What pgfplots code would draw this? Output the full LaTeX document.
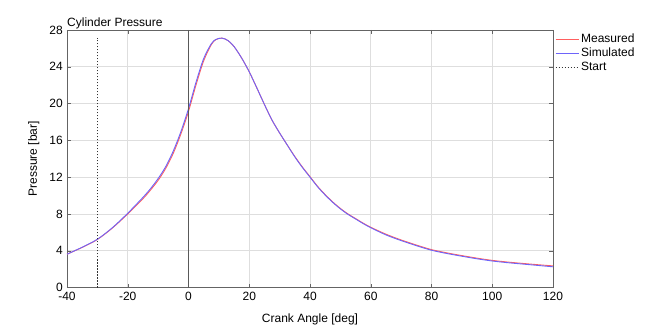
\documentclass[border=0pt]{standalone}
\usepackage{fontspec}
\setmainfont{Liberation Sans}
\usepackage{pgfplots}
\pgfplotsset{compat=1.18}
\definecolor{meas}{RGB}{255,95,95}
\definecolor{simu}{RGB}{110,100,250}
\definecolor{gridc}{RGB}{222,222,222}
\definecolor{axc}{RGB}{100,100,100}
\begin{document}
\begin{tikzpicture}
\fontsize{12}{14}\selectfont
\begin{axis}[
  name=ax,
  scale only axis,
  width=486pt, height=257.5pt,
  xmin=-40, xmax=120, ymin=0, ymax=28,
  xtick={-40,-20,...,120},
  ytick={0,4,...,28},
  grid=major,
  major grid style={gridc, line width=0.8pt},
  axis line style={axc, line width=0.8pt},
  tick style={axc},
  tick align=inside,
  major tick length=4pt,
  /pgf/number format/assume math mode=true,
  ticklabel style={font=\fontsize{12}{14}\selectfont},
  label style={font=\fontsize{12}{14}\selectfont},
  xlabel={Crank Angle [deg]},
  xlabel style={yshift=-5pt},
  ylabel={Pressure [bar]},
  ylabel style={yshift=2pt},
  title={Cylinder Pressure},
  title style={at={(0,1)}, anchor=base west, inner sep=0pt, yshift=-3pt, font=\fontsize{12}{14}\selectfont},
  legend style={draw=none, fill=none, at={(1,1)}, anchor=north west, xshift=0pt, yshift=0pt,
    font=\fontsize{12}{14}\selectfont, row sep=-0.5pt, inner sep=2pt},
  legend cell align=left,
  legend image code/.code={\draw[#1] (0pt,0pt) -- (23pt,0pt);},
]
\addplot[meas, line width=0.9pt, smooth, tension=0.5] coordinates {
(-40,3.62) (-35,4.36) (-30,5.22) (-25,6.48) (-20,8.00) (-15,9.65) (-12.5,10.6)
(-10,11.65) (-7.5,12.95) (-5,14.6) (-2.5,16.7) (0,19.15) (2.5,22.05) (5,24.65)
(7.5,26.4) (9,26.95) (11,27.12) (13,26.85) (15,26.2) (17.5,24.95) (20,23.45)
(22.5,21.7) (25,19.9) (27.5,18.2) (30,16.8) (32.5,15.5) (35,14.25) (37.5,13.1)
(40,12.05) (42.5,11.0) (45,10.1) (47.5,9.3) (50,8.6) (52.5,8.0) (55,7.5)
(57.5,7.0) (60,6.55) (65,5.8) (70,5.17) (75,4.62) (80,4.12) (85,3.77) (90,3.47)
(95,3.19) (100,2.95) (105,2.77) (110,2.62) (115,2.48) (120,2.35)
};
\addlegendentry{Measured}
\addplot[simu, line width=0.9pt, smooth, tension=0.5] coordinates {
(-40,3.62) (-35,4.38) (-30,5.25) (-25,6.52) (-20,8.08) (-15,9.8) (-12.5,10.75)
(-10,11.85) (-7.5,13.15) (-5,14.85) (-2.5,16.95) (0,19.45) (2.5,22.35) (5,24.9)
(7.5,26.5) (9,26.97) (11,27.12) (13,26.85) (15,26.2) (17.5,24.95) (20,23.45)
(22.5,21.7) (25,19.9) (27.5,18.2) (30,16.8) (32.5,15.5) (35,14.2) (37.5,13.05)
(40,12.0) (42.5,10.95) (45,10.05) (47.5,9.25) (50,8.55) (52.5,7.95) (55,7.45)
(57.5,6.95) (60,6.5) (65,5.72) (70,5.1) (75,4.55) (80,4.05) (85,3.7) (90,3.4)
(95,3.12) (100,2.88) (105,2.7) (110,2.55) (115,2.4) (120,2.25)
};
\addlegendentry{Simulated}
\addplot[black!80, line width=0.45pt, dash pattern=on 1.6pt off 1.4pt] coordinates {(-30,0) (-30,27.15)};
\addlegendentry{Start}
\addplot[black!65, line width=0.9pt, forget plot] coordinates {(0,0) (0,28)};
\end{axis}
\path[use as bounding box] ([xshift=-67pt,yshift=-39.5pt]ax.south west) rectangle ([xshift=104pt,yshift=30pt]ax.north east);
\end{tikzpicture}
\end{document}
